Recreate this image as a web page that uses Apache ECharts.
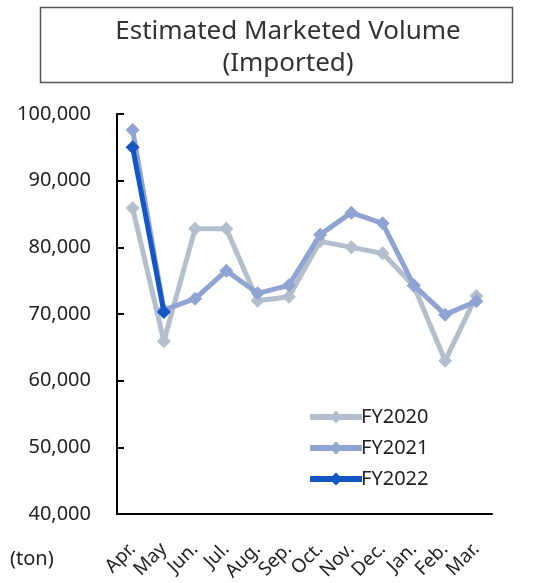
<!DOCTYPE html>
<html><head><meta charset="utf-8">
<script src="https://cdn.jsdelivr.net/npm/echarts@6/dist/echarts.min.js"></script>
<style>html,body{margin:0;padding:0;background:#fff}#c{width:538px;height:583px}</style>
</head><body><div id="c"></div>
<script>
const categories = ['Apr.','May','Jun.','Jul.','Aug.','Sep.','Oct.','Nov.','Dec.','Jan.','Feb.','Mar.'];
const fy2020 = [85900, 65900, 82800, 82800, 72000, 72600, 80900, 80000, 79100, 74200, 63000, 72700];
const fy2021 = [97600, 70600, 72300, 76500, 73100, 74300, 81900, 85200, 83600, 74300, 69900, 71900];
const fy2022 = [95000, 70300];
const yTicks = [40000, 50000, 60000, 70000, 80000, 90000, 100000];
const titleLines = ['Estimated Marketed Volume', '(Imported)'];
const unitLabel = '(ton)';

const FONT = '"Noto Sans", "Open Sans", sans-serif';
const chart = echarts.init(document.getElementById('c'), null, {renderer: 'canvas'});
function ser(name, data, color, z) {
  return {
    name, type: 'line', data, z,
    symbol: 'diamond', symbolSize: 14,
    lineStyle: {color, width: 5},
    itemStyle: {color},
    emphasis: {disabled: true},
    animation: false
  };
}
chart.setOption({
  animation: false,
  grid: {left: 117, top: 114, right: 46, bottom: 69, containLabel: false, outerBoundsMode: 'none'},
  xAxis: {
    type: 'category', data: categories, boundaryGap: true,
    axisLine: {lineStyle: {color: '#000', width: 2}},
    axisTick: {inside: true, length: 7, lineStyle: {color: '#000', width: 2}},
    axisLabel: {rotate: 45, fontSize: 19, color: '#222', fontFamily: FONT, margin: 32, interval: 0}
  },
  yAxis: {
    type: 'value', min: yTicks[0], max: yTicks[yTicks.length - 1], interval: 10000,
    axisLine: {show: true, lineStyle: {color: '#000', width: 2}},
    axisTick: {show: true, inside: true, length: 7, lineStyle: {color: '#000', width: 2}},
    splitLine: {show: false},
    axisLabel: {fontSize: 20, color: '#222', fontFamily: FONT, margin: 26,
      formatter: v => v.toLocaleString('en-US')}
  },
  legend: {
    orient: 'vertical', left: 302, top: 402, itemGap: 11,
    itemWidth: 52, itemHeight: 16,
    lineStyle: {width: 6},
    textStyle: {fontSize: 20, color: '#222', fontFamily: FONT, padding: [0,0,0,-6]},
    data: ['FY2020', 'FY2021', 'FY2022']
  },
  graphic: [
    {type: 'rect', shape: {x: 40.5, y: 7.5, width: 472, height: 75},
      style: {fill: '#fff', stroke: '#555', lineWidth: 1.5}},
    {type: 'text', x: 288, y: 32, style: {text: titleLines[0], fontSize: 26, fontFamily: FONT,
      fill: '#333', align: 'center', verticalAlign: 'middle'}},
    {type: 'text', x: 288, y: 64, style: {text: titleLines[1], fontSize: 26, fontFamily: FONT,
      fill: '#333', align: 'center', verticalAlign: 'middle'}},
    {type: 'text', x: 10, y: 559, style: {text: unitLabel, fontSize: 20, fontFamily: FONT,
      fill: '#222', verticalAlign: 'middle'}}
  ],
  series: [
    ser('FY2020', fy2020, '#b3bfcd', 1),
    ser('FY2021', fy2021, '#8fa4d3', 2),
    ser('FY2022', fy2022, '#1456c3', 3)
  ]
});
</script></body></html>
